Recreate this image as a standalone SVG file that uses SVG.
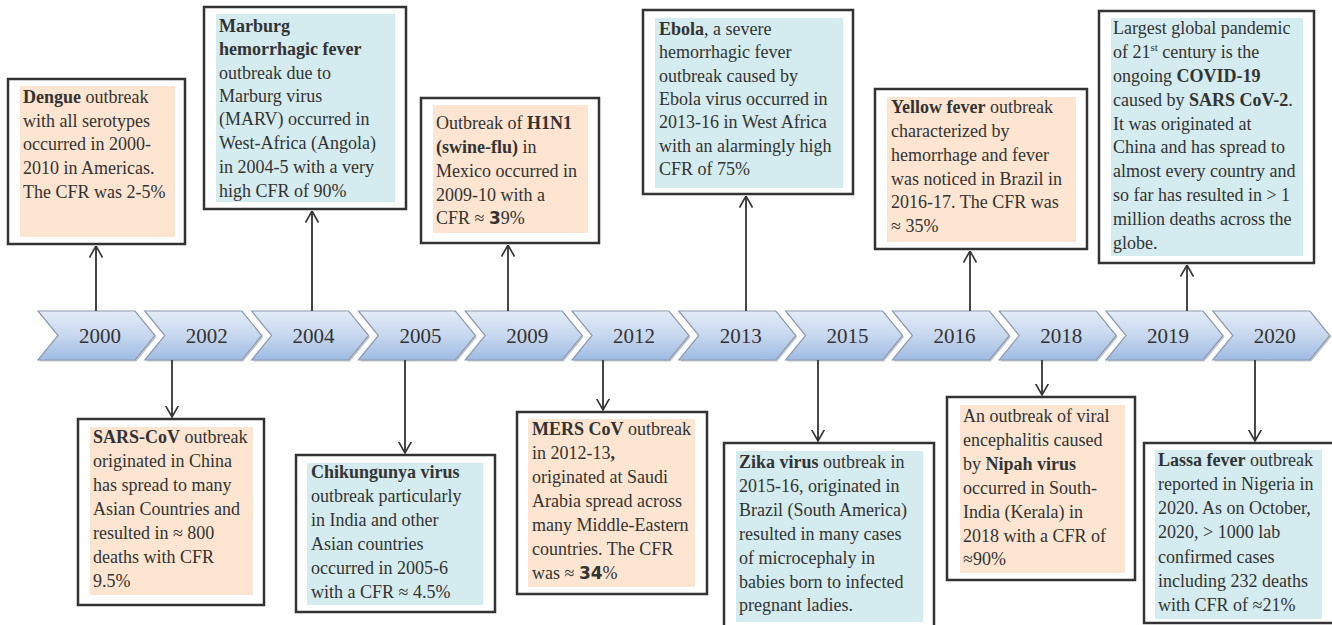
<svg xmlns="http://www.w3.org/2000/svg" width="1332" height="625" viewBox="0 0 1332 625">
<defs>
<linearGradient id="cg" x1="0" y1="0" x2="0" y2="1">
<stop offset="0" stop-color="#e3ecf7"/>
<stop offset="0.5" stop-color="#c7d7ee"/>
<stop offset="1" stop-color="#9fbbe3"/>
</linearGradient>
<polygon id="chev" points="0,0 97,0 117,24.5 97,49 0,49 20,24.5"/>
<marker id="ah" viewBox="0 0 12 14" refX="11.5" refY="7" markerWidth="12" markerHeight="14" markerUnits="userSpaceOnUse" orient="auto">
<path d="M0,0.5 L11.5,7 L0,13.5" fill="none" stroke="#333" stroke-width="1.6"/>
</marker>
</defs>
<style>
.box{fill:#fff;stroke:#333;stroke-width:2.5}
.pe{fill:#fde5d1}
.bl{fill:#d4ebef}
.t{font-family:"Liberation Serif","Times New Roman",serif;font-size:18px;fill:#333}
.b{font-weight:bold}
.sb{font-family:"DejaVu Sans","Liberation Sans",sans-serif;font-weight:bold;font-size:17px}
.yr{font-family:"Liberation Serif","Times New Roman",serif;font-size:21px;fill:#333;text-anchor:middle}
.cv{fill:url(#cg);stroke:#8e9bb0;stroke-width:1.2}
.sh{fill:#9aa3b1;opacity:0.6}
.ln{stroke:#333;stroke-width:1.8;fill:none;marker-end:url(#ah)}
</style>
<rect width="1332" height="625" fill="#fff"/>

<g id="timeline">
<g id="y2000"><use href="#chev" x="39.5" y="312.5" class="sh"/><use href="#chev" x="38" y="311" class="cv"/><text class="yr" x="100" y="343">2000</text></g>
<g id="y2002"><use href="#chev" x="146.3" y="312.5" class="sh"/><use href="#chev" x="144.8" y="311" class="cv"/><text class="yr" x="206.8" y="343">2002</text></g>
<g id="y2004"><use href="#chev" x="253.1" y="312.5" class="sh"/><use href="#chev" x="251.6" y="311" class="cv"/><text class="yr" x="313.6" y="343">2004</text></g>
<g id="y2005"><use href="#chev" x="359.9" y="312.5" class="sh"/><use href="#chev" x="358.4" y="311" class="cv"/><text class="yr" x="420.4" y="343">2005</text></g>
<g id="y2009"><use href="#chev" x="466.7" y="312.5" class="sh"/><use href="#chev" x="465.2" y="311" class="cv"/><text class="yr" x="527.2" y="343">2009</text></g>
<g id="y2012"><use href="#chev" x="573.5" y="312.5" class="sh"/><use href="#chev" x="572" y="311" class="cv"/><text class="yr" x="634" y="343">2012</text></g>
<g id="y2013"><use href="#chev" x="680.3" y="312.5" class="sh"/><use href="#chev" x="678.8" y="311" class="cv"/><text class="yr" x="740.8" y="343">2013</text></g>
<g id="y2015"><use href="#chev" x="787.1" y="312.5" class="sh"/><use href="#chev" x="785.6" y="311" class="cv"/><text class="yr" x="847.6" y="343">2015</text></g>
<g id="y2016"><use href="#chev" x="893.9" y="312.5" class="sh"/><use href="#chev" x="892.4" y="311" class="cv"/><text class="yr" x="954.4" y="343">2016</text></g>
<g id="y2018"><use href="#chev" x="1000.7" y="312.5" class="sh"/><use href="#chev" x="999.2" y="311" class="cv"/><text class="yr" x="1061.2" y="343">2018</text></g>
<g id="y2019"><use href="#chev" x="1107.5" y="312.5" class="sh"/><use href="#chev" x="1106" y="311" class="cv"/><text class="yr" x="1168" y="343">2019</text></g>
<g id="y2020"><use href="#chev" x="1214.3" y="312.5" class="sh"/><use href="#chev" x="1212.8" y="311" class="cv"/><text class="yr" x="1274.8" y="343">2020</text></g>
</g>

<g id="connectors">
<line class="ln" x1="96" y1="311" x2="96" y2="246"/>
<line class="ln" x1="312" y1="311" x2="312" y2="211"/>
<line class="ln" x1="508" y1="311" x2="508" y2="245"/>
<line class="ln" x1="746" y1="311" x2="746" y2="196"/>
<line class="ln" x1="970" y1="311" x2="970" y2="251"/>
<line class="ln" x1="1187" y1="311" x2="1187" y2="265"/>
<line class="ln" x1="172" y1="360" x2="172" y2="417"/>
<line class="ln" x1="405" y1="360" x2="405" y2="453"/>
<line class="ln" x1="603" y1="360" x2="603" y2="410"/>
<line class="ln" x1="818" y1="360" x2="818" y2="441"/>
<line class="ln" x1="1042" y1="360" x2="1042" y2="395"/>
<line class="ln" x1="1255" y1="360" x2="1255" y2="441"/>
</g>

<g id="dengue">
<rect class="box" x="8" y="79" width="177" height="165"/>
<rect class="pe" x="20" y="86" width="155" height="151"/>
<text class="t" x="23" y="103"><tspan class="b">Dengue</tspan> outbreak</text>
<text class="t" x="23" y="127">with all serotypes</text>
<text class="t" x="23" y="150">occurred in 2000-</text>
<text class="t" x="23" y="174">2010 in Americas.</text>
<text class="t" x="23" y="198">The CFR was 2-5%</text>
</g>

<g id="marburg">
<rect class="box" x="204" y="7" width="202" height="202"/>
<rect class="bl" x="216" y="14" width="179" height="188"/>
<text class="t" x="219" y="32"><tspan class="b">Marburg</tspan></text>
<text class="t" x="219" y="55"><tspan class="b">hemorrhagic fever</tspan></text>
<text class="t" x="219" y="79">outbreak due to</text>
<text class="t" x="219" y="102">Marburg virus</text>
<text class="t" x="219" y="125">(MARV) occurred in</text>
<text class="t" x="219" y="149">West-Africa (Angola)</text>
<text class="t" x="219" y="173">in 2004-5 with a very</text>
<text class="t" x="219" y="197">high CFR of 90%</text>
</g>

<g id="h1n1">
<rect class="box" x="421" y="98" width="178" height="145"/>
<rect class="pe" x="433" y="105" width="155" height="128"/>
<text class="t" x="436" y="129">Outbreak of <tspan class="b">H1N1</tspan></text>
<text class="t" x="436" y="153"><tspan class="b">(swine-flu)</tspan> in</text>
<text class="t" x="436" y="177">Mexico occurred in</text>
<text class="t" x="436" y="201">2009-10 with a</text>
<text class="t" x="436" y="224">CFR ≈ <tspan class="sb">3</tspan>9%</text>
</g>

<g id="ebola">
<rect class="box" x="643" y="10" width="210" height="184"/>
<rect class="bl" x="655" y="18" width="188" height="170"/>
<text class="t" x="659" y="35"><tspan class="b">Ebola</tspan>, a severe</text>
<text class="t" x="659" y="58">hemorrhagic fever</text>
<text class="t" x="659" y="82">outbreak caused by</text>
<text class="t" x="659" y="105">Ebola virus occurred in</text>
<text class="t" x="659" y="128">2013-16 in West Africa</text>
<text class="t" x="659" y="152">with an alarmingly high</text>
<text class="t" x="659" y="175">CFR of 75%</text>
</g>

<g id="yellowfever">
<rect class="box" x="875" y="89" width="212" height="160"/>
<rect class="pe" x="887" y="97" width="189" height="145"/>
<text class="t" x="891" y="113"><tspan class="b">Yellow fever</tspan>  outbreak</text>
<text class="t" x="891" y="137">characterized by</text>
<text class="t" x="891" y="161">hemorrhage and fever</text>
<text class="t" x="891" y="185">was noticed in Brazil in</text>
<text class="t" x="891" y="208">2016-17. The CFR was</text>
<text class="t" x="891" y="232">≈ 35%</text>
</g>

<g id="covid">
<rect class="box" x="1099" y="11" width="215" height="252"/>
<rect class="bl" x="1111" y="18" width="192" height="238"/>
<text class="t" x="1113" y="34">Largest global pandemic</text>
<text class="t" x="1113" y="58">of 21<tspan font-size="11" dy="-7">st</tspan><tspan dy="7"> century is the</tspan></text>
<text class="t" x="1113" y="82">ongoing <tspan class="b">COVID-19</tspan></text>
<text class="t" x="1113" y="106">caused by <tspan class="b">SARS CoV-2</tspan>.</text>
<text class="t" x="1113" y="130">It was originated at</text>
<text class="t" x="1113" y="153">China and has spread to</text>
<text class="t" x="1113" y="177">almost every country and</text>
<text class="t" x="1113" y="201">so far has resulted in &gt; 1</text>
<text class="t" x="1113" y="225">million deaths across the</text>
<text class="t" x="1113" y="249">globe.</text>
</g>

<g id="sars">
<rect class="box" x="78" y="419" width="186" height="186"/>
<rect class="pe" x="90" y="427" width="163" height="168"/>
<text class="t" x="93" y="443"><tspan class="b">SARS-CoV</tspan> outbreak</text>
<text class="t" x="93" y="467">originated in China</text>
<text class="t" x="93" y="491">has spread to many</text>
<text class="t" x="93" y="515">Asian Countries and</text>
<text class="t" x="93" y="539">resulted in ≈ 800</text>
<text class="t" x="93" y="563">deaths with CFR</text>
<text class="t" x="93" y="587">9.5%</text>
</g>

<g id="chikungunya">
<rect class="box" x="296" y="455" width="199" height="157"/>
<rect class="bl" x="307" y="463" width="176" height="142"/>
<text class="t" x="311" y="478"><tspan class="b">Chikungunya virus</tspan></text>
<text class="t" x="311" y="502">outbreak particularly</text>
<text class="t" x="311" y="526">in India and other</text>
<text class="t" x="311" y="550">Asian countries</text>
<text class="t" x="311" y="574">occurred in 2005-6</text>
<text class="t" x="311" y="598">with a CFR ≈ 4.5%</text>
</g>

<g id="mers">
<rect class="box" x="517" y="412" width="190" height="182"/>
<rect class="pe" x="528" y="419" width="167" height="168"/>
<text class="t" x="532" y="435"><tspan class="b">MERS CoV</tspan> outbreak</text>
<text class="t" x="532" y="459">in 2012-13<tspan class="b">,</tspan></text>
<text class="t" x="532" y="483">originated at Saudi</text>
<text class="t" x="532" y="507">Arabia spread across</text>
<text class="t" x="532" y="531">many Middle-Eastern</text>
<text class="t" x="532" y="555">countries. The CFR</text>
<text class="t" x="532" y="579">was ≈ <tspan class="sb">34</tspan>%</text>
</g>

<g id="zika">
<rect class="box" x="724" y="443" width="210" height="195"/>
<rect class="bl" x="736" y="451" width="187" height="171"/>
<text class="t" x="739" y="468"><tspan class="b">Zika virus</tspan> outbreak in</text>
<text class="t" x="739" y="492">2015-16, originated in</text>
<text class="t" x="739" y="516">Brazil (South America)</text>
<text class="t" x="739" y="540">resulted in many cases</text>
<text class="t" x="739" y="564">of microcephaly in</text>
<text class="t" x="739" y="588">babies born to infected</text>
<text class="t" x="739" y="611">pregnant ladies.</text>
</g>

<g id="nipah">
<rect class="box" x="947" y="397" width="188" height="183"/>
<rect class="pe" x="960" y="405" width="165" height="168"/>
<text class="t" x="963" y="422">An outbreak of viral</text>
<text class="t" x="963" y="446">encephalitis caused</text>
<text class="t" x="963" y="470">by <tspan class="b">Nipah virus</tspan></text>
<text class="t" x="963" y="494">occurred in South-</text>
<text class="t" x="963" y="518">India (Kerala) in</text>
<text class="t" x="963" y="542">2018 with a CFR of</text>
<text class="t" x="963" y="565">≈90%</text>
</g>

<g id="lassa">
<rect class="box" x="1144" y="443" width="200" height="180"/>
<rect class="bl" x="1155" y="450" width="167" height="169"/>
<text class="t" x="1158" y="466"><tspan class="b">Lassa fever</tspan> outbreak</text>
<text class="t" x="1158" y="490">reported in Nigeria in</text>
<text class="t" x="1158" y="514">2020. As on October,</text>
<text class="t" x="1158" y="538">2020, &gt; 1000 lab</text>
<text class="t" x="1158" y="563">confirmed cases</text>
<text class="t" x="1158" y="587">including 232 deaths</text>
<text class="t" x="1158" y="611">with CFR of ≈21%</text>
</g>
</svg>
